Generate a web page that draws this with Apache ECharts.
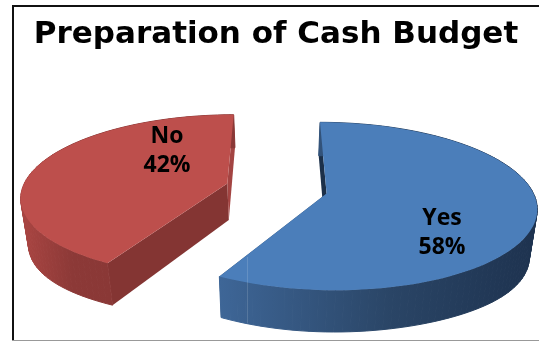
<!DOCTYPE html>
<html>
<head>
<meta charset="utf-8">
<style>html,body{margin:0;padding:0;background:#fff}#chart{width:539px;height:342px}</style>
<script src="https://cdn.jsdelivr.net/npm/echarts@6/dist/echarts.min.js"></script>
</head>
<body>
<div id="chart"></div>
<script>
// Survey result: share of respondents who prepare a cash budget
const categories = ['Yes', 'No'];
const shares = [58, 42];

// Perspective camera for the tilted, exploded pie
const camera = { vx: 276.5, vy: 188.5, rx: 205, ry: 80.5, k: 0.15 };
const explode = 0.25;
const firstAngle = 90;
const lowerPlane = { xScale: 0.97, yBase: 36.5, yScale: 0.05, yRef: 185, edgeDrop: 9, edgeSpan: 260 };

const palette = {
  Yes: { top: '#4b7eba', radialStart: '#1c3049', radialEnd: '#2c4a6e', wall: ['#3e6697', '#2a4566', '#1e3350'], wallX: [220, 530] },
  No:  { top: '#bd4f4c', radialStart: '#843533', radialEnd: '#a34442', wall: ['#a74441', '#8c3937', '#8a3836'], wallX: [27, 110] }
};
const labelCentres = { Yes: [442, 233], No: [167, 151] };

function project(px, py) {
  const w = 1 + camera.k * py;
  return [camera.vx + camera.rx * px / w, camera.vy - camera.ry * py / w];
}
// The pie's underside, seen slightly wider in y and narrower in x; far edges drop a little further
function lower(p) {
  const dx = (p[0] - camera.vx) / lowerPlane.edgeSpan;
  return [
    camera.vx + (p[0] - camera.vx) * lowerPlane.xScale,
    p[1] + lowerPlane.yBase + lowerPlane.yScale * (p[1] - lowerPlane.yRef) + lowerPlane.edgeDrop * Math.pow(dx, 4)
  ];
}
function poly(points, fill, z2, seal) {
  const style = { fill };
  if (seal) { style.stroke = fill; style.lineWidth = 1; }
  return { type: 'polygon', shape: { points }, style, z2 };
}

const total = shares.reduce((a, b) => a + b, 0);

function renderSlice(params, api) {
  const i = params.dataIndex;
  const name = categories[i];
  const value = api.value(0);
  const before = shares.slice(0, i).reduce((a, b) => a + b, 0);
  const a0 = firstAngle - before / total * 360;
  const a1 = a0 - value / total * 360;
  const mid = (a0 + a1) / 2 * Math.PI / 180;
  const ox = explode * Math.cos(mid), oy = explode * Math.sin(mid);
  const colors = palette[name];

  const arc = [];
  for (let a = a0; a >= a1 - 1e-6; a -= 2) {
    const r = a * Math.PI / 180;
    arc.push(project(ox + Math.cos(r), oy + Math.sin(r)));
  }
  const rEnd = a1 * Math.PI / 180;
  arc.push(project(ox + Math.cos(rEnd), oy + Math.sin(rEnd)));
  const apex = project(ox, oy);
  const arcLow = arc.map(lower);
  const apexLow = lower(apex);

  const wallFill = {
    type: 'linear', global: true,
    x: colors.wallX[0], y: 0, x2: colors.wallX[1], y2: 0,
    colorStops: [
      { offset: 0, color: colors.wall[0] },
      { offset: 0.55, color: colors.wall[1] },
      { offset: 1, color: colors.wall[2] }
    ]
  };

  const n = arc.length - 1;
  const children = [
    poly([apex, arc[0], arcLow[0], apexLow], colors.radialStart, 1),
    poly([apex, arc[n], arcLow[n], apexLow], colors.radialEnd, 1)
  ];
  // Outer wall as adjoining quads, stroked in their own fill so no seams show between them
  for (let s = 0; s < n; s++) {
    children.push(poly([arc[s], arc[s + 1], arcLow[s + 1], arcLow[s]], wallFill, 2, true));
  }
  children.push(poly([apex].concat(arc), colors.top, 3));
  children.push({
    type: 'text', z2: 4,
    style: {
      text: name + '\n' + value + '%',
      x: labelCentres[name][0], y: labelCentres[name][1],
      align: 'center', verticalAlign: 'middle',
      font: 'bold 23px "Open Sans"', lineHeight: 29, fill: '#000'
    }
  });
  return { type: 'group', children };
}

const chart = echarts.init(document.getElementById('chart'), null, { renderer: 'canvas' });
chart.setOption({
  animation: false,
  backgroundColor: '#fff',
  title: {
    text: 'Preparation of Cash Budget',
    left: 271, top: 14, textAlign: 'center',
    textStyle: { fontFamily: 'DejaVu Sans', fontWeight: 'bold', fontSize: 31, color: '#000' }
  },
  graphic: [
    { type: 'rect', z: 10, shape: { x: 12, y: 5, width: 527, height: 2 }, style: { fill: '#111' } },
    { type: 'rect', z: 10, shape: { x: 12, y: 5, width: 2, height: 336 }, style: { fill: '#111' } },
    { type: 'rect', z: 10, shape: { x: 12, y: 340, width: 527, height: 1 }, style: { fill: '#999' } },
    // Pale seam on the front of the blue slice
    { type: 'rect', z: 10, shape: { x: 247, y: 257, width: 1, height: 66 }, style: { fill: 'rgba(255,255,255,0.14)' } }
  ],
  series: [{
    type: 'custom',
    coordinateSystem: 'none',
    silent: true,
    renderItem: renderSlice,
    data: shares.map((v) => [v])
  }]
});
</script>
</body>
</html>
